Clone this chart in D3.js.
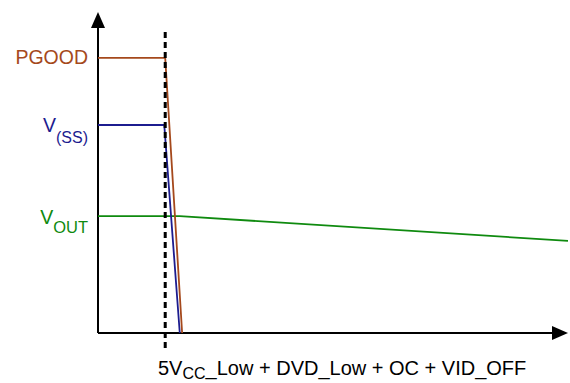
<!DOCTYPE html>
<html>
<head>
<meta charset="utf-8">
<script src="https://cdn.jsdelivr.net/npm/d3@7"></script>
<style>
body { margin: 0; background: #fff; }
text { font-family: "Liberation Sans", Arial, sans-serif; }
</style>
</head>
<body>
<script>
var width = 570,
height = 383;

// signals: [time, level]
var pgood = [[0, 8.57], [14.3, 8.57], [17.9, 0]];
var vss = [[0, 6.48], [14.1, 6.48], [17.4, 0]];
var vout = [[0, 3.64], [17.4, 3.64], [100, 2.87]];
var eventTime = 14.3;
var eventLabel = ["5V", "CC", "_Low + DVD_Low + OC + VID_OFF"];

var x = d3.scaleLinear().domain([0, 100]).range([98, 568]);
var y = d3.scaleLinear().domain([0, 10]).range([333, 12]);

var svg = d3.select("body").append("svg")
 .attr("width", width)
 .attr("height", height);

var line = d3.line()
 .x(function (d) { return x(d[0]); })
 .y(function (d) { return y(d[1]); });

// axes
svg.append("line")
 .attr("x1", x(0)).attr("y1", y(0))
 .attr("x2", x(0)).attr("y2", y(10) + 14)
 .attr("stroke", "#000").attr("stroke-width", 2);
svg.append("path")
 .attr("d", "M" + (x(0) - 7) + "," + (y(10) + 16) + "L" + x(0) + "," + y(10) + "L" + (x(0) + 7) + "," + (y(10) + 16) + "Z")
 .attr("fill", "#000");

svg.append("line")
 .attr("x1", x(0)).attr("y1", y(0))
 .attr("x2", x(100) - 14).attr("y2", y(0))
 .attr("stroke", "#000").attr("stroke-width", 2);
svg.append("path")
 .attr("d", "M" + (x(100) - 16) + "," + (y(0) - 7) + "L" + x(100) + "," + y(0) + "L" + (x(100) - 16) + "," + (y(0) + 7) + "Z")
 .attr("fill", "#000");

// signals
var series = [
 {data: vout, color: "#0f8a0f"},
 {data: vss, color: "#1c1c8f"},
 {data: pgood, color: "#a5491c"}
];
svg.selectAll(".sig")
 .data(series)
 .enter()
 .append("path")
 .attr("class", "sig")
 .attr("d", function (d) { return line(d.data); })
 .attr("fill", "none")
 .attr("stroke", function (d) { return d.color; })
 .attr("stroke-width", 1.8);

// event marker
svg.append("line")
 .attr("x1", x(eventTime)).attr("y1", 32)
 .attr("x2", x(eventTime)).attr("y2", 352)
 .attr("stroke", "#000").attr("stroke-width", 3)
 .attr("stroke-dasharray", "6,4");

// labels
svg.append("text")
 .attr("x", 88).attr("y", 64)
 .attr("text-anchor", "end")
 .style("font-size", "19.5px")
 .attr("fill", "#a5491c")
 .text("PGOOD");

var t1 = svg.append("text")
 .attr("x", 88).attr("y", 132)
 .attr("text-anchor", "end")
 .style("font-size", "19.5px")
 .attr("fill", "#1c1c8f");
t1.append("tspan").text("V");
t1.append("tspan").attr("dy", 11).style("font-size", "16px").text("(SS)");

var t2 = svg.append("text")
 .attr("x", 88).attr("y", 224)
 .attr("text-anchor", "end")
 .style("font-size", "19.5px")
 .attr("fill", "#0f8a0f");
t2.append("tspan").text("V");
t2.append("tspan").attr("dy", 9).style("font-size", "16.5px").text("OUT");

var t3 = svg.append("text")
 .attr("x", 158).attr("y", 375)
 .style("font-size", "20px")
 .attr("fill", "#000");
t3.append("tspan").text(eventLabel[0]);
t3.append("tspan").attr("dy", 4).style("font-size", "16px").text(eventLabel[1]);
t3.append("tspan").attr("dy", -4).text(eventLabel[2]);
</script>
</body>
</html>
